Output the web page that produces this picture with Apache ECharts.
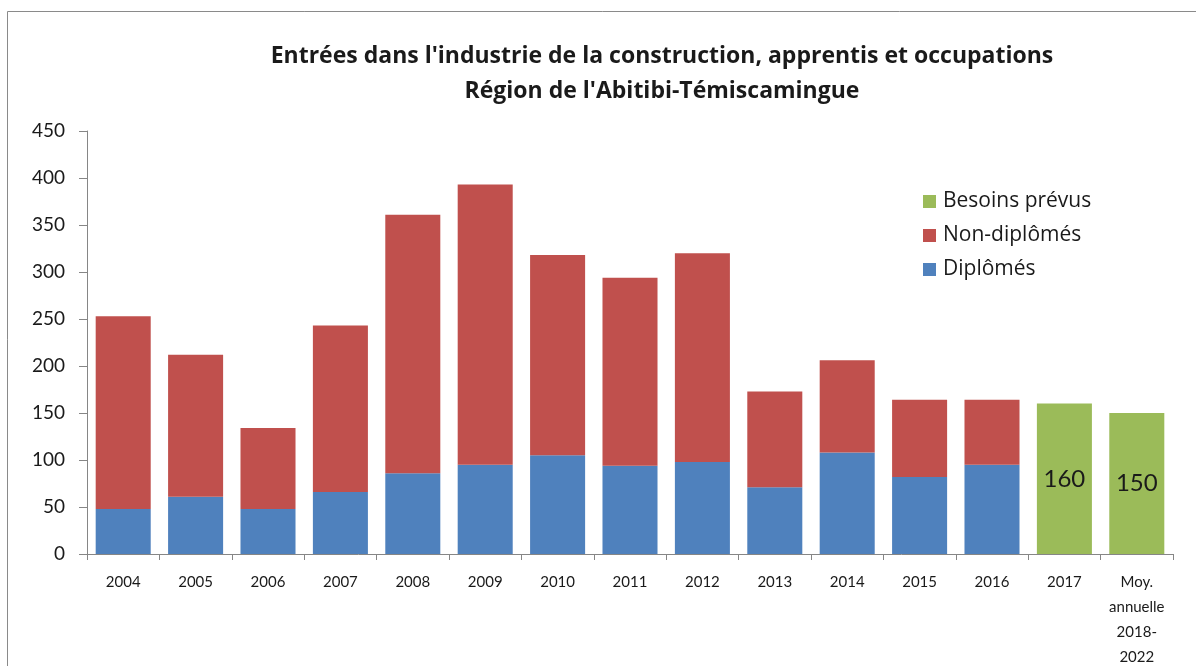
<!DOCTYPE html>
<html>
<head>
<meta charset="utf-8">
<script src="https://cdn.jsdelivr.net/npm/echarts@6/dist/echarts.min.js"></script>
<style>
  html, body { margin: 0; padding: 0; background: #fff; }
  #chart { width: 1196px; height: 666px; }
</style>
</head>
<body>
<div id="chart"></div>
<script>
// Categories on the x axis
const categories = ['2004', '2005', '2006', '2007', '2008', '2009', '2010', '2011', '2012', '2013', '2014', '2015', '2016', '2017', 'Moy.\nannuelle\n2018-\n2022'];

// Entries per year (stacked)
const diplomes     = [48, 61, 48, 66, 86, 95, 105, 94, 98, 71, 108, 82, 95, null, null];
const nonDiplomes  = [205, 151, 86, 177, 275, 298, 213, 200, 222, 102, 98, 82, 69, null, null];
const besoinsPrevus = [null, null, null, null, null, null, null, null, null, null, null, null, null, 160, 150];

// Y axis ticks
const yTicks = { min: 0, max: 450, interval: 50 };

const FONT = 'Lato, "Open Sans", sans-serif';
const WIDE_FONT = '"Open Sans", Lato, sans-serif';

const chart = echarts.init(document.getElementById('chart'), null, { renderer: 'canvas' });

chart.setOption({
  animation: false,
  backgroundColor: '#ffffff',
  title: {
    text: "Entrées dans l'industrie de la construction, apprentis et occupations\nRégion de l'Abitibi-Témiscamingue",
    left: 657,
    top: 34,
    textAlign: 'center',
    textStyle: {
      fontFamily: WIDE_FONT,
      fontWeight: 'bold',
      fontSize: 23,
      lineHeight: 35,
      color: '#1a1a1a'
    }
  },
  legend: {
    orient: 'vertical',
    left: 918,
    top: 186,
    itemWidth: 13,
    itemHeight: 13,
    itemGap: 13,
    icon: 'rect',
    data: ['Besoins prévus', 'Non-diplômés', 'Diplômés'],
    textStyle: { fontFamily: WIDE_FONT, fontSize: 21, color: '#1a1a1a', padding: [0, 0, 0, 2] }
  },
  grid: { left: 87, right: 23, top: 131, bottom: 112, containLabel: false, outerBoundsMode: 'none' },
  xAxis: {
    type: 'category',
    data: categories,
    axisLine: { lineStyle: { color: '#868686', width: 1 } },
    axisTick: { show: true, alignWithLabel: false, length: 6, lineStyle: { color: '#868686' } },
    axisLabel: {
      interval: 0,
      margin: 16,
      fontFamily: FONT,
      fontSize: 15,
      lineHeight: 25,
      color: '#1a1a1a',
      verticalAlign: 'top'
    }
  },
  yAxis: {
    type: 'value',
    min: yTicks.min,
    max: yTicks.max,
    interval: yTicks.interval,
    splitLine: { show: false },
    axisLine: { show: true, lineStyle: { color: '#868686', width: 1 } },
    axisTick: { show: true, length: 8, lineStyle: { color: '#868686' } },
    axisLabel: { margin: 22, fontFamily: FONT, fontSize: 19, color: '#1a1a1a' }
  },
  series: [
    {
      name: 'Diplômés',
      type: 'bar',
      stack: 'total',
      data: diplomes,
      barWidth: '76%',
      itemStyle: { color: '#4F81BD' }
    },
    {
      name: 'Non-diplômés',
      type: 'bar',
      stack: 'total',
      data: nonDiplomes,
      itemStyle: { color: '#C0504D' }
    },
    {
      name: 'Besoins prévus',
      type: 'bar',
      stack: 'total',
      data: besoinsPrevus,
      itemStyle: { color: '#9BBB59' },
      label: {
        show: true,
        position: 'inside',
        fontFamily: FONT,
        fontSize: 24,
        color: '#1a1a1a'
      }
    }
  ],
  graphic: [
    {
      type: 'rect',
      silent: true,
      shape: { x: 7.5, y: 11.5, width: 1200, height: 700 },
      style: { fill: 'none', stroke: '#8a8a8a', lineWidth: 1 }
    }
  ]
});
</script>
</body>
</html>
